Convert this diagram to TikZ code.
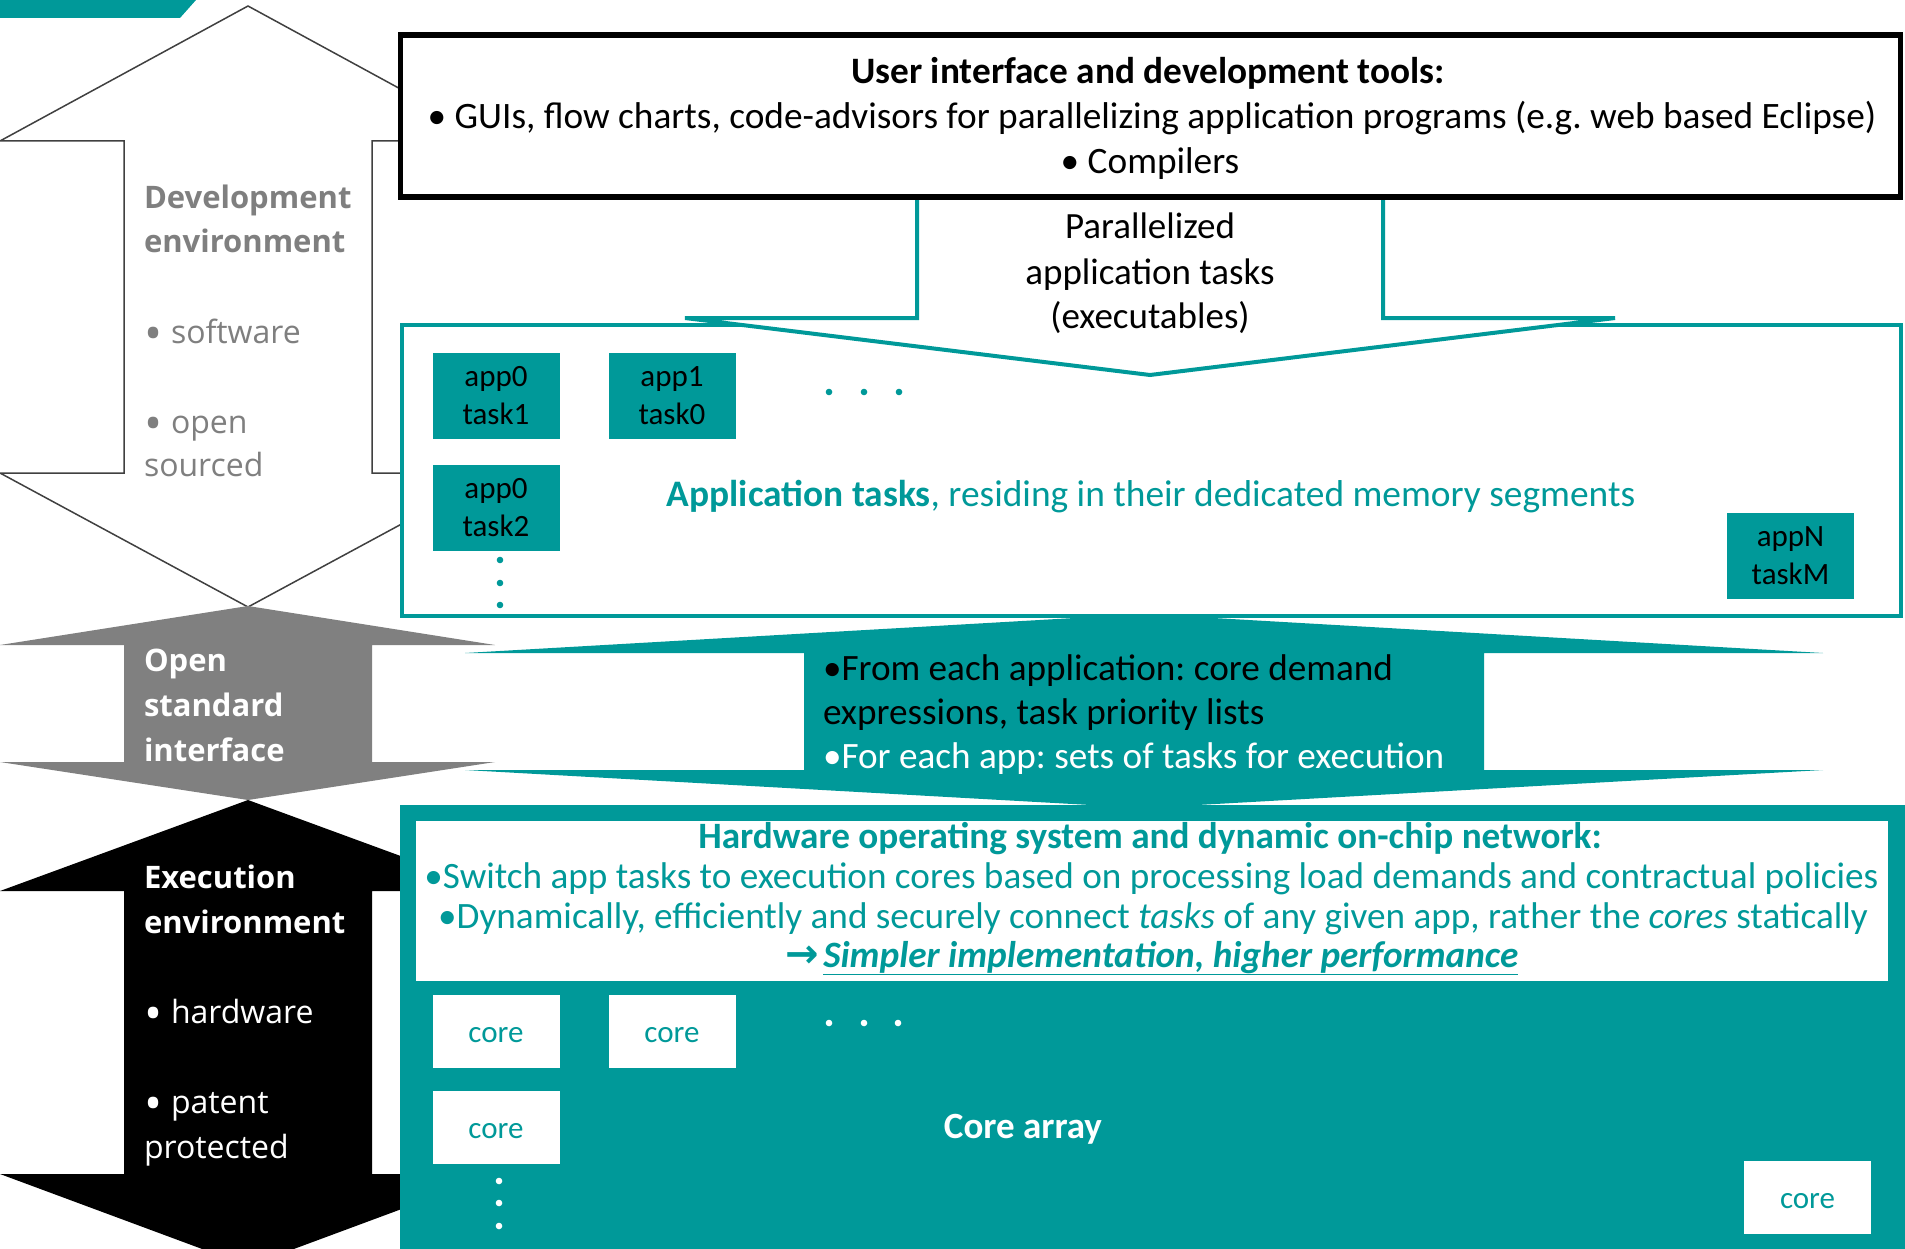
\documentclass[tikz,border=0pt]{standalone}
\usepackage{fontspec}
\setmainfont{Carlito}
\newfontfamily\seg{Open Sans}
\newfontfamily\djv{DejaVu Sans}
\definecolor{tealc}{RGB}{0,153,153}
\definecolor{grayc}{RGB}{128,128,128}
\definecolor{graytext}{RGB}{127,127,127}
\definecolor{outl}{RGB}{64,64,64}
\newcommand{\bigbul}{\makebox[27pt][l]{\raisebox{-7pt}{\scalebox{1.5}{•}}}}
\frenchspacing
\begin{document}
\frenchspacing
\begin{tikzpicture}[x=1pt,y=-1pt,
  every node/.style={inner sep=0pt, outer sep=0pt},
  lbl/.style={anchor=base west, font=\seg\fontsize{32}{44}\selectfont},
  lblb/.style={anchor=base west, font=\seg\bfseries\fontsize{31}{44}\selectfont},
  uitext/.style={anchor=base, font=\fontsize{37.3}{45}\selectfont},
  ptext/.style={anchor=base, font=\fontsize{37}{45}\selectfont},
  midtext/.style={anchor=base west, font=\fontsize{37.2}{44}\selectfont},
  hwtext/.style={anchor=base, text=tealc, font=\fontsize{37.2}{40}\selectfont},
  appbox/.style={fill=tealc, minimum width=127, minimum height=86, align=center, font=\fontsize{31}{38}\selectfont},
  corebox/.style={fill=white, text=tealc, minimum width=127, minimum height=73, text height=28pt, text depth=6pt, font=\fontsize{31}{38}\selectfont},
  tdot/.style={fill=tealc},
  wdot/.style={fill=white}
]
\useasboundingbox (0,0) rectangle (1905,1249);
\clip (0,0) rectangle (1905,1249);

% top-left teal band
\fill[tealc] (0,0) -- (196,0) -- (180,18) -- (0,18) -- cycle;

% development environment double arrow (white)
\draw[outl, line width=1.5, fill=white] (248,6) -- (496,141) -- (372,141) -- (372,473) -- (496,473) -- (248,607) -- (0,473) -- (124,473) -- (124,141) -- (0,141) -- cycle;

% open standard interface double arrow (gray)
\fill[grayc] (248,606) -- (495,645) -- (372,645) -- (372,762) -- (495,762) -- (248,800) -- (0,762) -- (124,762) -- (124,645) -- (0,645) -- cycle;

% execution environment double arrow (black)
\fill[black] (248,800) -- (496,891) -- (372,891) -- (372,1174) -- (496,1174) -- (248,1266) -- (0,1174) -- (124,1174) -- (124,891) -- (0,891) -- cycle;

% teal double arrow between tasks and hardware
\fill[tealc] (1144,614) -- (1823,653) -- (1484,653) -- (1484,770) -- (1823,770) -- (1144,808) -- (465,770) -- (804,770) -- (804,653) -- (465,653) -- cycle;

% application tasks box
\node[draw=tealc, line width=4, fill=white, minimum width=1499, minimum height=291] (appsbox) at (1151,470.5) {};

% parallelized arrow
\draw[tealc, line width=4, fill=white] (917,190) -- (917,318) -- (685,318) -- (1150,375) -- (1615,318) -- (1383,318) -- (1383,190);
\node[ptext] (par1) at (1150,239) {Parallelized};
\node[ptext] (par2) at (1150,284) {application tasks};
\node[ptext] (par3) at (1150,328) {(executables)};

% user interface box
\node[draw=black, line width=5.5, fill=white, minimum width=1500, minimum height=162] (ui) at (1150.5,116) {};
\node[uitext] (ui1) at (1148,84) {\bfseries User interface and development tools:};
\node[uitext] (ui2) at (1152,129) {• GUIs, flow charts, code-advisors for parallelizing application programs (e.g. web based Eclipse)};
\node[uitext] (ui3) at (1150,174) {• Compilers};

% application task boxes
\node[appbox] (a01) at (496,396) {app0\\task1};
\node[appbox] (a10) at (672,396) {app1\\task0};
\node[appbox] (a02) at (496,508) {app0\\task2};
\node[appbox] (aNM) at (1790.5,556) {appN\\taskM};
\foreach \x in {829,864,899} \fill[tdot] (\x,392) circle[radius=3.3pt];
\foreach \y in {560,583,605} \fill[tdot] (500,\y) circle[radius=3.3pt];
\node[anchor=base, text=tealc, font=\fontsize{37.4}{45}\selectfont] (apptasks) at (1151,506) {\textbf{Application tasks}, residing in their dedicated memory segments};

% texts of teal double arrow
\node[midtext] (m1) at (823,680) {•From each application: core demand};
\node[midtext] (m2) at (823,724) {expressions, task priority lists};
\node[midtext, text=white] (m3) at (823,768) {•For each app: sets of tasks for execution};

% hardware box
\node[fill=tealc, minimum width=1505, minimum height=460, anchor=north west] (hw) at (400,805) {};
\node[fill=white, minimum width=1472, minimum height=160, anchor=north west] (hwin) at (416,821) {};
\node[hwtext] (h1) at (1150,848) {\bfseries Hardware operating system and dynamic on-chip network:};
\node[hwtext] (h2) at (1151.5,888) {•Switch app tasks to execution cores based on processing load demands and contractual policies};
\node[hwtext] (h3) at (1153,928) {•Dynamically, efficiently and securely connect \textit{tasks} of any given app, rather the \textit{cores} statically};
\node[hwtext] (h4) at (1152,967) {{\djv\bfseries\fontsize{40}{40}\selectfont →}\hspace{4pt}\textbf{\textit{\underline{Simpler implementation, higher performance}}}};

% core boxes
\node[corebox] (c1) at (496,1031) {core};
\node[corebox] (c2) at (672,1031) {core};
\node[corebox] (c3) at (496,1127) {core};
\node[corebox] (c4) at (1807.5,1197) {core};
\foreach \x in {829,864,898} \fill[wdot] (\x,1023) circle[radius=3.3pt];
\foreach \y in {1181,1203,1226} \fill[wdot] (499,\y) circle[radius=3.3pt];
\node[anchor=base, text=white, font=\bfseries\fontsize{37}{45}\selectfont] (corearray) at (1023,1138) {Core array};

% left side labels
\node[lblb, text=graytext] (dev1) at (144,209) {Development};
\node[lblb, text=graytext] (dev2) at (144,253) {environment};
\node[lbl, text=graytext] (dev3) at (144,343) {\bigbul software};
\node[lbl, text=graytext] (dev4) at (144,433) {\bigbul open};
\node[lbl, text=graytext] (dev5) at (144,476) {sourced};

\node[lblb, text=white] (os1) at (144,671) {Open};
\node[lblb, text=white] (os2) at (144,716) {standard};
\node[lblb, text=white] (os3) at (144,761) {interface};

\node[lblb, text=white] (ex1) at (144,888) {Execution};
\node[lblb, text=white] (ex2) at (144,933) {environment};
\node[lbl, text=white] (ex3) at (144,1023) {\bigbul hardware};
\node[lbl, text=white] (ex4) at (144,1113) {\bigbul patent};
\node[lbl, text=white] (ex5) at (144,1158) {protected};
\end{tikzpicture}
\end{document}
